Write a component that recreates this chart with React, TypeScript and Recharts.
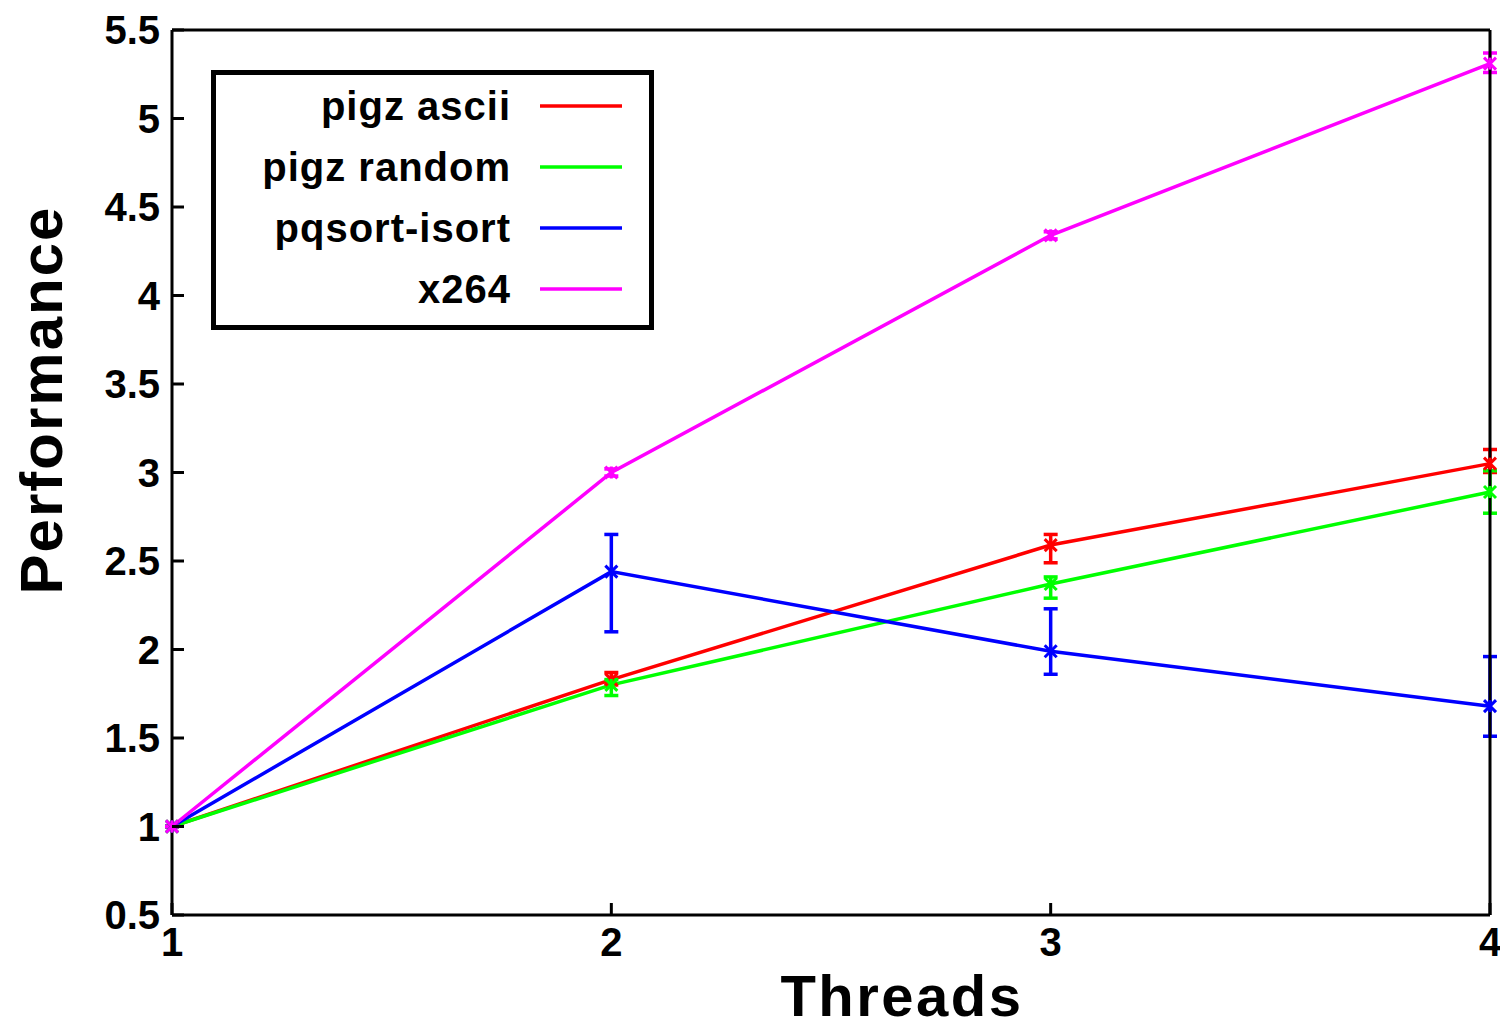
import React from 'react';
import { LineChart, Line, XAxis, YAxis, ErrorBar, Legend } from 'recharts';

const threads = [1, 2, 3, 4];
const xTicks = [1, 2, 3, 4];
const yTicks = [0.5, 1, 1.5, 2, 2.5, 3, 3.5, 4, 4.5, 5, 5.5];

const pigzAscii = [1, 1.83, 2.59, 3.05];
const pigzAsciiLow = [0, 0.03, 0.1, 0.05];
const pigzAsciiHigh = [0, 0.04, 0.06, 0.08];

const pigzRandom = [1, 1.8, 2.37, 2.89];
const pigzRandomLow = [0, 0.06, 0.08, 0.12];
const pigzRandomHigh = [0, 0.03, 0.04, 0.12];

const pqsort = [1, 2.44, 1.99, 1.68];
const pqsortLow = [0, 0.34, 0.13, 0.17];
const pqsortHigh = [0, 0.21, 0.24, 0.28];

const x264 = [1, 3.0, 4.34, 5.31];
const x264Low = [0, 0.02, 0.02, 0.05];
const x264High = [0, 0.02, 0.02, 0.06];

const seriesNames = ['pigz ascii', 'pigz random', 'pqsort-isort', 'x264'];
const seriesKeys = ['ascii', 'random', 'pqsort', 'x264'];
const seriesColors = ['#ff0000', '#00ff00', '#0000ff', '#ff00ff'];

const data = threads.map((t, i) => ({
  t,
  ascii: pigzAscii[i],
  asciiErr: [pigzAsciiLow[i], pigzAsciiHigh[i]],
  random: pigzRandom[i],
  randomErr: [pigzRandomLow[i], pigzRandomHigh[i]],
  pqsort: pqsort[i],
  pqsortErr: [pqsortLow[i], pqsortHigh[i]],
  x264: x264[i],
  x264Err: [x264Low[i], x264High[i]],
}));

const FONT = '"Liberation Sans", Arial, Helvetica, sans-serif';
const TICK_MARGIN = 12;
const TICK_LEN = 12;

const LeftTick = (props: any) => {
  const { x, y, payload } = props;
  const ax = x + TICK_MARGIN;
  return (
    <g>
      <line x1={ax} y1={y} x2={ax + TICK_LEN} y2={y} stroke="#000" strokeWidth={3} />
      <text x={x} y={y} dy="0.36em" textAnchor="end" fontFamily={FONT} fontWeight="bold" fontSize={40} fill="#000">
        {payload.value}
      </text>
    </g>
  );
};

const BottomTick = (props: any) => {
  const { x, y, payload } = props;
  const ay = y - TICK_MARGIN;
  return (
    <g>
      <line x1={x} y1={ay} x2={x} y2={ay - TICK_LEN} stroke="#000" strokeWidth={3} />
      <text x={x} y={y} dy="0.72em" textAnchor="middle" fontFamily={FONT} fontWeight="bold" fontSize={40} fill="#000">
        {payload.value}
      </text>
    </g>
  );
};

const makeDot = (color: string, key: string) => (props: any) => {
  const { cx, cy, index } = props;
  const s = 6;
  return (
    <g key={`${key}-${index}`}>
      <line x1={cx - s} y1={cy - s} x2={cx + s} y2={cy + s} stroke={color} strokeWidth={3} />
      <line x1={cx - s} y1={cy + s} x2={cx + s} y2={cy - s} stroke={color} strokeWidth={3} />
      <line x1={cx} y1={cy - s} x2={cx} y2={cy + s} stroke={color} strokeWidth={3} />
    </g>
  );
};

const LegendBox = () => (
  <svg width={443} height={260} style={{ display: 'block' }}>
    <rect x={2.5} y={2.5} width={438} height={255} fill="#fff" stroke="#000" strokeWidth={5} />
    {seriesNames.map((n, i) => {
      const cy = 36 + i * 61;
      return (
        <g key={n}>
          <text x={300} y={cy} dy="0.36em" textAnchor="end" fontFamily={FONT} fontWeight="bold" fontSize={40} letterSpacing={1} fill="#000">
            {n}
          </text>
          <line x1={329} y1={cy} x2={411} y2={cy} stroke={seriesColors[i]} strokeWidth={3.5} />
        </g>
      );
    })}
  </svg>
);

export default function App() {
  return (
    <div style={{ position: 'absolute', left: 0, top: 0, background: '#fff' }}>
      <LineChart width={1500} height={1032} data={data} margin={{ top: 30, right: 10, bottom: 0, left: 0 }}>
        <XAxis
          xAxisId="b"
          type="number"
          dataKey="t"
          domain={[1, 4]}
          ticks={xTicks}
          orientation="bottom"
          height={117}
          tickSize={0}
          tickMargin={TICK_MARGIN}
          tickLine={false}
          axisLine={{ stroke: '#000', strokeWidth: 3 }}
          tick={<BottomTick />}
          interval={0}
          label={{
            content: (p: any) => (
              <text x={902} y={1016} textAnchor="middle" fontFamily={FONT} fontWeight="bold" fontSize={58} letterSpacing={2.5} fill="#000">
                Threads
              </text>
            ),
          }}
        />
        <XAxis
          xAxisId="t"
          type="number"
          dataKey="t"
          domain={[1, 4]}
          ticks={xTicks}
          orientation="top"
          mirror
          tick={false}
          tickSize={TICK_LEN}
          tickLine={{ stroke: '#000', strokeWidth: 3 }}
          axisLine={{ stroke: '#000', strokeWidth: 3 }}
          interval={0}
        />
        <YAxis
          yAxisId="l"
          type="number"
          domain={[0.5, 5.5]}
          ticks={yTicks}
          width={172}
          tickSize={0}
          tickMargin={TICK_MARGIN}
          tickLine={false}
          axisLine={{ stroke: '#000', strokeWidth: 3 }}
          tick={<LeftTick />}
          interval={0}
          label={{
            content: (p: any) => (
              <text
                x={62}
                y={400}
                transform="rotate(-90 62 400)"
                textAnchor="middle"
                fontFamily={FONT}
                fontWeight="bold"
                fontSize={60}
                letterSpacing={2}
                fill="#000"
              >
                Performance
              </text>
            ),
          }}
        />
        <YAxis
          yAxisId="r"
          type="number"
          domain={[0.5, 5.5]}
          ticks={yTicks}
          orientation="right"
          mirror
          tick={false}
          tickSize={TICK_LEN}
          tickLine={{ stroke: '#000', strokeWidth: 3 }}
          axisLine={{ stroke: '#000', strokeWidth: 3 }}
          interval={0}
        />
        <Legend
          layout="horizontal"
          verticalAlign="middle"
          align="center"
          content={() => <LegendBox />}
          wrapperStyle={{ left: 211, top: 70, width: 443, height: 260 }}
        />
        {seriesKeys.map((k, i) => (
          <Line
            key={k}
            xAxisId="b"
            yAxisId="l"
            dataKey={k}
            name={seriesNames[i]}
            stroke={seriesColors[i]}
            strokeWidth={3.5}
            type="linear"
            isAnimationActive={false}
            dot={makeDot(seriesColors[i], k)}
            activeDot={false}
          >
            <ErrorBar dataKey={`${k}Err`} direction="y" width={7} stroke={seriesColors[i]} strokeWidth={3.5} isAnimationActive={false} />
          </Line>
        ))}
      </LineChart>
    </div>
  );
}
